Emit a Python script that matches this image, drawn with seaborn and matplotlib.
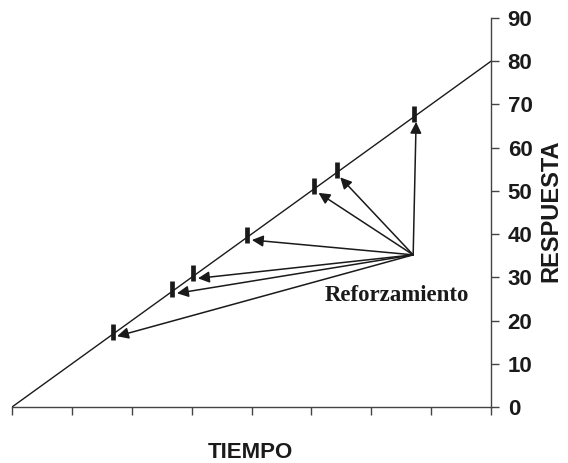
import matplotlib
matplotlib.use("Agg")
import matplotlib.pyplot as plt
import numpy as np
import pandas as pd
import seaborn as sns

# registro acumulado: respuesta vs tiempo
tiempo = [0, 8]
respuesta = [0, 80]

# momentos de reforzamiento (tiempo) sobre la recta
reforzadores = [1.68, 2.68, 3.03, 3.93, 5.05, 5.42, 6.72]
origen_flechas = (6.70, 35.2)

y_ticks = [0, 10, 20, 30, 40, 50, 60, 70, 80, 90]
x_ticks = [0, 1, 2, 3, 4, 5, 6, 7, 8]

sns.set_theme(style="white")
plt.rcParams['font.family'] = ['Liberation Sans', 'DejaVu Sans']

fig = plt.figure(figsize=(5.68, 4.63), dpi=100)
ax = fig.add_axes([12 / 568, 56 / 463, 479 / 568, 389 / 463])

df = pd.DataFrame({"tiempo": tiempo, "respuesta": respuesta})
sns.lineplot(data=df, x="tiempo", y="respuesta", color="#1a1a1a", lw=1.0, ax=ax)

pendiente = respuesta[1] / tiempo[1]
marcas = pd.DataFrame({"t": reforzadores,
                       "r": [pendiente * t + 0.6 for t in reforzadores]})
ax.plot(marcas["t"], marcas["r"], ls="none", marker="|", ms=11, mew=3.4,
        color="#1a1a1a")

for t in reforzadores:
    ax.annotate("", xy=(t + 0.03, pendiente * t - 0.6), xytext=origen_flechas,
                arrowprops=dict(arrowstyle="-|>", color="#1a1a1a", lw=1.1,
                                mutation_scale=17, shrinkA=0, shrinkB=2))

ax.text(5.22, 25.7, "Reforzamiento", family=["Liberation Serif"],
        fontweight="bold", fontsize=16.5, color="#1a1a1a", va="center", ha="left")

ax.set_xlim(0, 8)
ax.set_ylim(0, 90)
ax.set_xticks(x_ticks)
ax.set_xticklabels([])
ax.set_yticks(y_ticks)
ax.yaxis.tick_right()
ax.tick_params(axis="y", direction="out", length=6, width=1, colors="#444444",
               labelcolor="#1a1a1a", labelsize=16, pad=6, right=True, left=False)
ax.tick_params(axis="x", direction="out", length=5.5, width=1, colors="#444444",
               bottom=True)
for lab in ax.get_yticklabels():
    lab.set_fontweight("bold")

for s in ["left", "top"]:
    ax.spines[s].set_visible(False)
for s in ["right", "bottom"]:
    ax.spines[s].set_color("#444444")
    ax.spines[s].set_linewidth(1)

ax.set_xlabel("TIEMPO", fontsize=16, fontweight="bold", color="#1a1a1a")
ax.xaxis.set_label_coords(0.497, -0.118)
ax.xaxis.label.set_va("center")
ax.set_ylabel("RESPUESTA", fontsize=17, fontweight="bold", color="#1a1a1a",
              rotation=90)
ax.yaxis.set_label_position("right")
ax.yaxis.set_label_coords(1.125, 0.504)
ax.yaxis.label.set_va("center")
ax.yaxis.label.set_ha("center")

fig.savefig("out.png", dpi=100)
